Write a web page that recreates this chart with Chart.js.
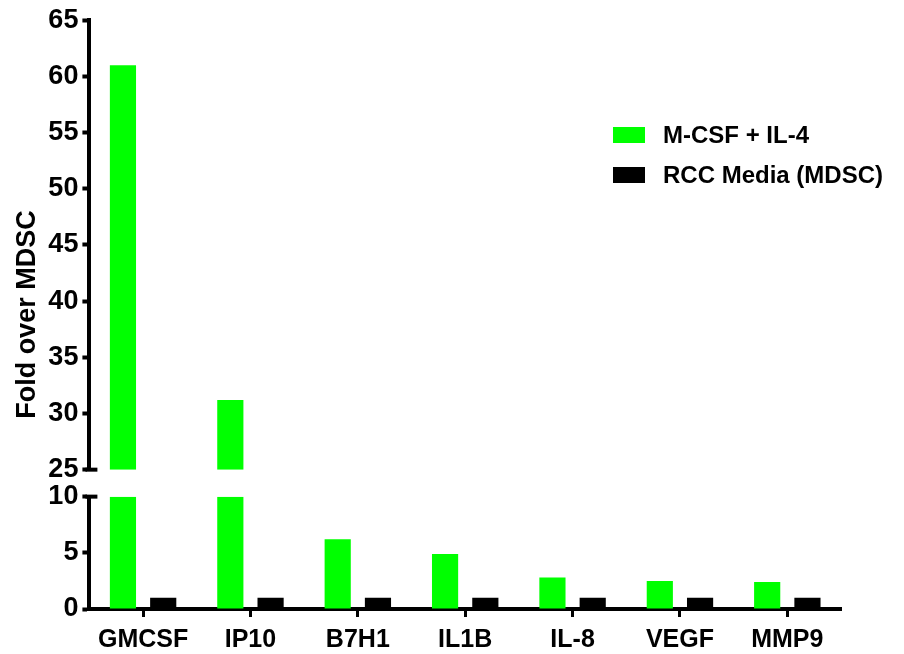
<!DOCTYPE html>
<html>
<head>
<meta charset="utf-8">
<script src="https://cdn.jsdelivr.net/npm/chart.js@4/dist/chart.umd.min.js"></script>
<style>
  html, body { margin: 0; padding: 0; background: #ffffff; }
  #wrap { width: 904px; height: 654px; position: relative; }
</style>
</head>
<body>
<div id="wrap"><canvas id="chart"></canvas></div>
<script>
// Genes on the x axis
const categories = ['GMCSF', 'IP10', 'B7H1', 'IL1B', 'IL-8', 'VEGF', 'MMP9'];
// Fold change over MDSC for each culture condition
const mcsfIl4 = [61, 31.2, 6.2, 4.9, 2.8, 2.5, 2.4];
const rccMedia = [1, 1, 1, 1, 1, 1, 1];
// Series names
const seriesNames = ['M-CSF + IL-4', 'RCC Media (MDSC)'];
// Broken y axis: lower and upper segments, shared tick step
const lowerRange = [0, 10];
const upperRange = [25, 65];
const tickStep = 5;
const yTitle = 'Fold over MDSC';

const GREEN = '#00ff00';
const BLACK = '#000000';
const FONT = "'Liberation Sans', Arial, Helvetica, sans-serif";
const Y_AXIS_WIDTH = 46;

// Each bar dataset is clipped to the band of its own y scale,
// so tall bars show up in both segments of the broken axis.
const clipToOwnScale = {
  id: 'clipToOwnScale',
  beforeDatasetDraw(chart, args) {
    const vs = args.meta.vScale;
    const ca = chart.chartArea;
    const ctx = chart.ctx;
    ctx.save();
    ctx.beginPath();
    ctx.rect(ca.left, vs.top, ca.right - ca.left, vs.bottom - vs.top);
    ctx.clip();
  },
  afterDatasetDraw(chart) {
    chart.ctx.restore();
  }
};

// Short caps on the right side of the axis where it is broken
const axisBreakCaps = {
  id: 'axisBreakCaps',
  afterDraw(chart) {
    const ctx = chart.ctx;
    const x = chart.chartArea.left;
    const top = chart.scales.yTop;
    const low = chart.scales.yLow;
    ctx.save();
    ctx.strokeStyle = BLACK;
    ctx.lineWidth = 4;
    ctx.lineCap = 'butt';
    [top.getPixelForValue(upperRange[0]), low.getPixelForValue(lowerRange[1])].forEach(y => {
      ctx.beginPath();
      ctx.moveTo(x - 4, y);
      ctx.lineTo(x + 8, y);
      ctx.stroke();
    });
    ctx.restore();
  }
};

// Legend drawn inside the plot, upper right
const insideLegend = {
  id: 'insideLegend',
  afterDraw(chart) {
    const ctx = chart.ctx;
    const items = chart.data.datasets.filter(d => d.inLegend);
    const x0 = 613, y0 = 135, rowGap = 40, boxW = 32, boxH = 16, textGap = 18;
    ctx.save();
    ctx.font = 'bold 24px ' + FONT;
    ctx.textBaseline = 'middle';
    ctx.textAlign = 'left';
    items.forEach((d, i) => {
      const cy = y0 + i * rowGap;
      ctx.fillStyle = d.backgroundColor;
      ctx.fillRect(x0, cy - boxH / 2, boxW, boxH);
      ctx.fillStyle = BLACK;
      ctx.fillText(d.label, x0 + boxW + textGap, cy + 1);
    });
    ctx.restore();
  }
};

const yCommon = {
  type: 'linear',
  position: 'left',
  stack: 'fold',
  stacked: false,
  border: { display: true, color: BLACK, width: 4 },
  grid: { display: true, drawOnChartArea: false, drawTicks: true, tickLength: 7, tickWidth: 4, tickColor: BLACK },
  ticks: { stepSize: tickStep, autoSkip: false, color: BLACK, padding: 4, font: { family: FONT, size: 27, weight: 'bold' } },
  afterFit(scale) { scale.width = Y_AXIS_WIDTH; }
};

new Chart(document.getElementById('chart'), {
  type: 'bar',
  data: {
    labels: categories,
    datasets: [
      { label: seriesNames[0], data: mcsfIl4, yAxisID: 'yLow', stack: 'mcsf', backgroundColor: GREEN, inLegend: true },
      { label: seriesNames[1], data: rccMedia, yAxisID: 'yLow', stack: 'rcc', backgroundColor: BLACK, inLegend: true },
      { label: seriesNames[0], data: mcsfIl4, yAxisID: 'yTop', stack: 'mcsf', backgroundColor: GREEN, inLegend: false }
    ]
  },
  options: {
    responsive: true,
    maintainAspectRatio: false,
    animation: false,
    events: [],
    datasets: { bar: { barPercentage: 0.65, categoryPercentage: 0.75, borderWidth: 0 } },
    layout: { padding: { top: 20, right: 63, bottom: 0, left: 0 } },
    plugins: {
      legend: { display: false },
      tooltip: { enabled: false },
      title: {
        display: true,
        text: yTitle,
        position: 'left',
        fullSize: false,
        color: BLACK,
        font: { family: FONT, size: 27, weight: 'bold', lineHeight: 1.2 },
        padding: { top: 11, bottom: 0 }
      }
    },
    scales: {
      x: {
        type: 'category',
        offset: true,
        border: { display: true, color: BLACK, width: 4 },
        grid: { display: true, offset: false, drawOnChartArea: false, drawTicks: true, tickLength: 8, tickWidth: 3, tickColor: BLACK },
        ticks: { color: BLACK, padding: 8, autoSkip: false, maxRotation: 0, font: { family: FONT, size: 25, weight: 'bold' } },
        afterFit(scale) { scale.height = 45; }
      },
      yTop: Object.assign({}, yCommon, {
        min: upperRange[0], max: upperRange[1], weight: 2, stackWeight: upperRange[1] - upperRange[0]
      }),
      yGap: {
        type: 'linear',
        position: 'left',
        stack: 'fold',
        weight: 1,
        stackWeight: 2.4,
        border: { display: false },
        grid: { display: false },
        ticks: { display: false },
        afterFit(scale) { scale.width = Y_AXIS_WIDTH; }
      },
      yLow: Object.assign({}, yCommon, {
        min: lowerRange[0], max: lowerRange[1], weight: 0, stackWeight: lowerRange[1] - lowerRange[0]
      })
    }
  },
  plugins: [clipToOwnScale, axisBreakCaps, insideLegend]
});
</script>
</body>
</html>
